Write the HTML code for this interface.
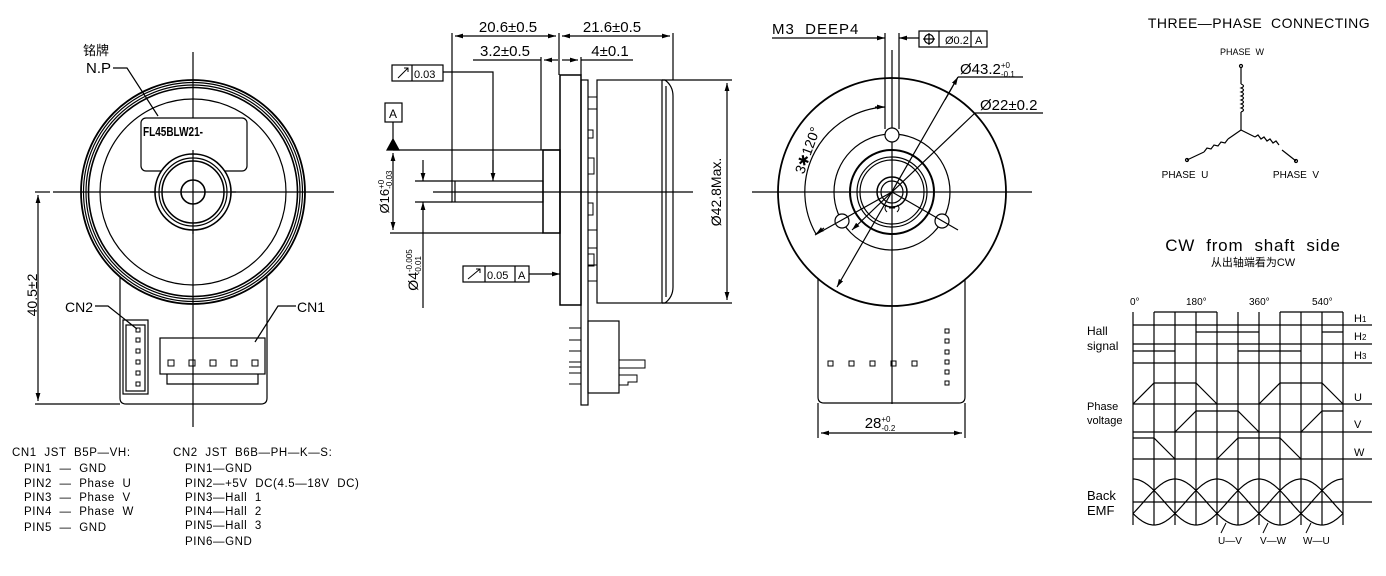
<!DOCTYPE html>
<html><head><meta charset="utf-8"><style>
html,body{margin:0;padding:0;background:#fff;}
svg{display:block}
text{font-family:"Liberation Sans","Noto Sans CJK SC",sans-serif;fill:#000;white-space:pre}
</style></head><body>
<svg width="1386" height="576" viewBox="0 0 1386 576" xmlns="http://www.w3.org/2000/svg" xml:space="preserve">
<defs>
<marker id="ar" viewBox="0 0 10 10" refX="10" refY="5" markerWidth="8" markerHeight="8" orient="auto-start-reverse" markerUnits="userSpaceOnUse"><path d="M0,2 L10,5 L0,8 z" fill="#000"/></marker>
</defs>
<g fill="none" stroke="#000" stroke-width="1.2">
<!-- LEFT VIEW -->
<line x1="193" y1="52" x2="193" y2="427"/>
<line x1="53" y1="192" x2="334" y2="192"/>
<line x1="35" y1="192" x2="50" y2="192"/>
<path d="M120,277 L120,398 Q120,404 126,404 L261,404 Q267,404 267,398 L267,277"/>
<circle cx="193" cy="192" r="112" stroke-width="1.8"/>
<circle cx="193" cy="192" r="109.5"/>
<circle cx="193" cy="192" r="107"/>
<circle cx="193" cy="192" r="104.5" stroke-width="1.6"/>
<circle cx="193" cy="192" r="93"/>
<rect x="141" y="118" width="106" height="53" rx="5" fill="#fff"/>
<circle cx="193" cy="192" r="38" stroke-width="1.6" fill="#fff"/>
<circle cx="193" cy="192" r="34"/>
<circle cx="193" cy="192" r="31" stroke-width="1.5"/>
<circle cx="193" cy="192" r="12" stroke-width="1.6"/>
<line x1="193" y1="150" x2="193" y2="234"/>
<line x1="150" y1="192" x2="236" y2="192"/>
<path d="M113,68 L127,68 L158,116"/>
<line x1="38" y1="195" x2="38" y2="401" marker-start="url(#ar)" marker-end="url(#ar)"/>
<line x1="35" y1="404" x2="120" y2="404"/>
<rect x="123" y="320" width="25" height="74"/>
<rect x="126" y="325" width="19" height="66"/>
<g stroke-width="1"><rect x="136" y="328" width="4" height="4"/><rect x="136" y="338" width="4" height="4"/><rect x="136" y="349" width="4" height="4"/><rect x="136" y="360" width="4" height="4"/><rect x="136" y="371" width="4" height="4"/><rect x="136" y="382" width="4" height="4"/></g>
<rect x="160" y="338" width="105" height="36"/>
<path d="M167,374 L167,384 L258,384 L258,374"/>
<g stroke-width="1"><rect x="168" y="360" width="6" height="6"/><rect x="189" y="360" width="6" height="6"/><rect x="210" y="360" width="6" height="6"/><rect x="231" y="360" width="6" height="6"/><rect x="252" y="360" width="6" height="6"/></g>
<path d="M95,306 L108,306 L137,329"/>
<path d="M296,306 L278,306 L255,342"/>

<!-- MIDDLE VIEW -->
<line x1="452" y1="33" x2="452" y2="181"/>
<line x1="559" y1="33" x2="559" y2="75"/>
<line x1="673" y1="33" x2="673" y2="80"/>
<line x1="455" y1="36" x2="556" y2="36" marker-start="url(#ar)" marker-end="url(#ar)"/>
<line x1="562" y1="36" x2="670" y2="36" marker-start="url(#ar)" marker-end="url(#ar)"/>
<line x1="473" y1="60" x2="541" y2="60"/>
<line x1="581" y1="60" x2="633" y2="60"/>
<line x1="541" y1="57" x2="541" y2="150"/>
<line x1="581" y1="57" x2="581" y2="75"/>
<line x1="544" y1="60" x2="558" y2="60" marker-start="url(#ar)"/>
<line x1="562" y1="60" x2="578" y2="60" marker-end="url(#ar)"/>
<rect x="560" y="75" width="21" height="230" stroke-width="1.5"/>
<rect x="581" y="80" width="7" height="325"/>
<rect x="597" y="80" width="65" height="223"/>
<path d="M662,80 L665,80 Q673,86 673,96 L673,287 Q673,297 665,303 L662,303"/>
<line x1="666" y1="86" x2="666" y2="297"/>
<g stroke-width="1"><rect x="588" y="97" width="9" height="12"/><rect x="588" y="130" width="5" height="8"/><rect x="588" y="158" width="6" height="16"/><rect x="588" y="203" width="5" height="12"/><rect x="588" y="230" width="9" height="18"/><rect x="588" y="254" width="6" height="12"/><rect x="588" y="265" width="9" height="16"/></g>
<rect x="543" y="150" width="17" height="83" stroke-width="1.5"/>
<rect x="452" y="181" width="91" height="21"/>
<line x1="455" y1="181" x2="455" y2="202"/>
<line x1="433" y1="192" x2="693" y2="192"/>
<rect x="385" y="103" width="17" height="19"/>
<line x1="393" y1="122" x2="393" y2="141"/>
<polygon points="387,150 399,150 393,139" fill="#000"/>
<line x1="393" y1="150" x2="560" y2="150"/>
<line x1="393" y1="153" x2="393" y2="230" marker-start="url(#ar)" marker-end="url(#ar)"/>
<line x1="390" y1="233" x2="543" y2="233"/>
<line x1="415" y1="181" x2="452" y2="181"/>
<line x1="415" y1="202" x2="452" y2="202"/>
<line x1="423" y1="160" x2="423" y2="181" marker-end="url(#ar)"/>
<line x1="423" y1="308" x2="423" y2="202" marker-end="url(#ar)"/>
<rect x="392" y="65" width="51" height="16"/><line x1="412" y1="65" x2="412" y2="81"/>
<path d="M443,72 L493,72 L493,178" />
<line x1="493" y1="160" x2="493" y2="181" marker-end="url(#ar)"/>
<rect x="463" y="266" width="66" height="16"/><line x1="485" y1="266" x2="485" y2="282"/><line x1="515" y1="266" x2="515" y2="282"/>
<line x1="529" y1="274" x2="560" y2="274" marker-end="url(#ar)"/>
<line x1="727" y1="83" x2="727" y2="300" marker-start="url(#ar)" marker-end="url(#ar)"/>
<line x1="662" y1="80" x2="732" y2="80"/>
<line x1="662" y1="303" x2="732" y2="303"/>
<rect x="588" y="321" width="31" height="72"/>
<g stroke-width="1"><path d="M569,328 H581 M569,340 H581 M569,351 H581 M569,362 H581 M569,367 H581 M569,373 H581 M569,384 H581"/>
<path d="M619,360 H645 V368 H619 M619,375 H637 V382 H628 V385 H619"/></g>

<!-- RIGHT VIEW -->
<path d="M818,270 L818,397 Q818,403 824,403 L959,403 Q965,403 965,397 L965,270"/>
<circle cx="892" cy="192" r="114" stroke-width="1.8" fill="#fff"/>
<circle cx="892" cy="192" r="58"/>
<circle cx="892" cy="192" r="42" stroke-width="2"/>
<circle cx="892" cy="192" r="35"/>
<circle cx="892" cy="192" r="32"/>
<circle cx="892" cy="192" r="15" stroke-width="1.5"/>
<circle cx="892" cy="192" r="11"/>
<path d="M887,205 q-4,3 0,7 M897,205 q4,3 0,7 M889,208 h6" stroke-width="1"/>
<line x1="752" y1="192" x2="1032" y2="192"/>
<line x1="892" y1="50" x2="892" y2="404"/>
<line x1="885" y1="33" x2="885" y2="129"/>
<line x1="899" y1="33" x2="899" y2="129"/>
<circle cx="892" cy="135" r="7" fill="#fff"/>
<circle cx="842" cy="221" r="7" fill="#fff"/>
<circle cx="942" cy="221" r="7" fill="#fff"/>
<line x1="892" y1="192" x2="815" y2="235"/>
<line x1="892" y1="192" x2="958" y2="230"/>
<line x1="772" y1="38" x2="885" y2="38" marker-end="url(#ar)"/>
<line x1="919" y1="38" x2="899" y2="38" marker-end="url(#ar)"/>
<rect x="919" y="31" width="68" height="16"/><line x1="939" y1="31" x2="939" y2="47"/><line x1="971" y1="31" x2="971" y2="47"/>
<circle cx="929" cy="39" r="4.5"/><line x1="929" y1="33" x2="929" y2="45"/><line x1="923" y1="39" x2="935" y2="39"/>
<line x1="958" y1="77" x2="1023" y2="77"/>
<line x1="958" y1="77" x2="837" y2="287" marker-end="url(#ar)"/>
<line x1="945" y1="100" x2="958" y2="77" marker-end="url(#ar)"/>
<line x1="975" y1="113" x2="1043" y2="113"/>
<line x1="975" y1="113" x2="852" y2="230" marker-end="url(#ar)"/>
<path d="M885,107 A85,85 0 0 0 816,234"/>
<line x1="875" y1="107" x2="885" y2="107" marker-end="url(#ar)"/>
<line x1="824" y1="228" x2="816" y2="234" marker-end="url(#ar)"/>
<g stroke-width="1"><rect x="828" y="361" width="5" height="5"/><rect x="849" y="361" width="5" height="5"/><rect x="870" y="361" width="5" height="5"/><rect x="891" y="361" width="5" height="5"/><rect x="912" y="361" width="5" height="5"/>
<rect x="945" y="329" width="4" height="4"/><rect x="945" y="339" width="4" height="4"/><rect x="945" y="350" width="4" height="4"/><rect x="945" y="360" width="4" height="4"/><rect x="945" y="370" width="4" height="4"/><rect x="945" y="381" width="4" height="4"/></g>
<line x1="818" y1="403" x2="818" y2="438"/>
<line x1="965" y1="403" x2="965" y2="438"/>
<line x1="821" y1="433" x2="962" y2="433" marker-start="url(#ar)" marker-end="url(#ar)"/>

<!-- THREE PHASE -->
<g stroke-width="1.2">
<line x1="1241" y1="67" x2="1241" y2="84"/>
<path d="M1241,84 q5,2 0,4 q5,2 0,4 q5,2 0,4 q5,2 0,4 q5,2 0,4 q5,2 0,4 q5,2 0,4"/>
<line x1="1241" y1="112" x2="1241" y2="130"/>
<line x1="1241" y1="130" x2="1228" y2="139"/>
<path d="M1228,139 l-3,4 l-4,-1 l-3,4 l-4,-1 l-3,4 l-4,-1 l-3,4"/>
<line x1="1204" y1="152" x2="1187" y2="160"/>
<line x1="1241" y1="130" x2="1255" y2="137"/>
<path d="M1255,137 l3,-2 l3,4 l3,-2 l3,4 l3,-2 l3,4 l3,-2 l3,4"/>
<line x1="1282" y1="150" x2="1296" y2="161"/>
</g>
<circle cx="1241" cy="66" r="1.5"/><circle cx="1187" cy="160" r="1.5"/><circle cx="1296" cy="161" r="1.5"/>

<!-- WAVEFORMS -->
<g stroke-width="1.2">
<path d="M1133,312 V525 M1154,312 V525 M1175,312 V525 M1196,312 V525 M1217,312 V525 M1238,312 V525 M1259,312 V525 M1280,312 V525 M1301,312 V525 M1322,312 V525 M1343,312 V525"/>
<path d="M1133,325 H1372 M1133,344 H1372 M1133,363 H1372 M1133,404 H1372 M1133,432 H1372 M1133,459 H1372 M1133,502 H1372"/>
<path d="M1154,312 H1217 M1280,312 H1343"/>
<path d="M1196,332 H1259 M1322,332 H1343"/>
<path d="M1133,351 H1175 M1238,351 H1301"/>
<path d="M1133,404 L1154,383 H1196 L1217,404 M1259,404 L1280,383 H1322 L1343,404"/>
<path d="M1175,432 L1196,411 H1238 L1259,432 M1301,432 L1322,411 H1343"/>
<path d="M1133,438 H1154 L1175,459 M1217,459 L1238,438 H1280 L1301,459"/>
<path id="s1" d=""/><path id="s2" d=""/><path id="s3" d=""/>
<path d="M1221,533 L1226,523 M1263,533 L1268,523 M1306,533 L1311,523" stroke-width="1"/>
</g>
</g>

<!-- TEXT -->
<text x="83" y="55" font-size="13">铭牌</text>
<text x="86" y="73" font-size="15">N.P</text>
<text x="143" y="136" font-size="13" font-weight="bold" textLength="60" lengthAdjust="spacingAndGlyphs">FL45BLW21-</text>
<text x="65" y="312" font-size="14">CN2</text>
<text x="297" y="312" font-size="14">CN1</text>
<text transform="translate(37,295) rotate(-90)" font-size="14" text-anchor="middle">40.5±2</text>
<g font-size="11.5" letter-spacing="0.6">
<text x="12" y="456">CN1  JST  B5P—VH:</text>
<text x="24" y="472">PIN1  —  GND</text>
<text x="24" y="487">PIN2  —  Phase  U</text>
<text x="24" y="501">PIN3  —  Phase  V</text>
<text x="24" y="515">PIN4  —  Phase  W</text>
<text x="24" y="531">PIN5  —  GND</text>
<text x="173" y="456">CN2  JST  B6B—PH—K—S:</text>
<text x="185" y="472">PIN1—GND</text>
<text x="185" y="487">PIN2—+5V  DC(4.5—18V  DC)</text>
<text x="185" y="501">PIN3—Hall  1</text>
<text x="185" y="515">PIN4—Hall  2</text>
<text x="185" y="529">PIN5—Hall  3</text>
<text x="185" y="545">PIN6—GND</text>
</g>
<text x="508" y="32" font-size="15" text-anchor="middle">20.6±0.5</text>
<text x="612" y="32" font-size="15" text-anchor="middle">21.6±0.5</text>
<text x="505" y="56" font-size="15" text-anchor="middle">3.2±0.5</text>
<text x="610" y="56" font-size="15" text-anchor="middle">4±0.1</text>
<text x="393" y="118" font-size="12" text-anchor="middle">A</text>
<text x="414" y="78" font-size="11">0.03</text>
<path d="M398,78 L408,68 M404,68 H408 V72" stroke="#000" fill="none"/>
<path d="M468,279 L480,269 M476,269 H480 V273" stroke="#000" fill="none"/>
<text x="487" y="279" font-size="11">0.05</text>
<text x="518" y="279" font-size="11">A</text>
<text transform="translate(389,192) rotate(-90)" font-size="13" text-anchor="middle">Ø16<tspan font-size="8" dy="-5">+0</tspan><tspan font-size="8" dx="-9" dy="8">-0.03</tspan></text>
<text transform="translate(418,270) rotate(-90)" font-size="14" text-anchor="middle">Ø4<tspan font-size="8" dy="-6">-0.005</tspan><tspan font-size="8" dx="-25" dy="9">-0.01</tspan></text>
<text transform="translate(721,192) rotate(-90)" font-size="14" text-anchor="middle">Ø42.8Max.</text>
<text x="772" y="34" font-size="15" letter-spacing="1">M3  DEEP4</text>
<text x="945" y="44" font-size="11">Ø0.2</text>
<text x="975" y="44" font-size="11">A</text>
<text x="960" y="74" font-size="15">Ø43.2<tspan font-size="8" dy="-6">+0</tspan><tspan font-size="8" dx="-9" dy="9">-0.1</tspan></text>
<text x="980" y="110" font-size="15">Ø22±0.2</text>
<text transform="translate(812,152) rotate(-70)" font-size="14" text-anchor="middle">3✱120°</text>
<text x="880" y="428" font-size="15" text-anchor="middle">28<tspan font-size="8" dy="-6">+0</tspan><tspan font-size="8" dx="-9" dy="9">-0.2</tspan></text>
<text x="1259" y="28" font-size="14" text-anchor="middle" letter-spacing="0.5">THREE—PHASE  CONNECTING</text>
<text x="1242" y="55" font-size="9" text-anchor="middle">PHASE  W</text>
<text x="1185" y="178" font-size="10" text-anchor="middle">PHASE  U</text>
<text x="1296" y="178" font-size="10" text-anchor="middle">PHASE  V</text>
<text x="1253" y="251" font-size="17" text-anchor="middle" letter-spacing="0.8">CW  from  shaft  side</text>
<text x="1253" y="266" font-size="11" text-anchor="middle" font-family="Noto Serif CJK SC,serif">从出轴端看为CW</text>
<g font-size="10">
<text x="1130" y="305">0°</text><text x="1186" y="305">180°</text><text x="1249" y="305">360°</text><text x="1312" y="305">540°</text>
<text x="1354" y="322" font-size="11">H<tspan font-size="8">1</tspan></text>
<text x="1354" y="340" font-size="11">H<tspan font-size="8">2</tspan></text>
<text x="1354" y="359" font-size="11">H<tspan font-size="8">3</tspan></text>
<text x="1354" y="401" font-size="11">U</text>
<text x="1354" y="428" font-size="11">V</text>
<text x="1354" y="456" font-size="11">W</text>
<text x="1087" y="335" font-size="12">Hall</text>
<text x="1087" y="350" font-size="12">signal</text>
<text x="1087" y="410" font-size="11">Phase</text>
<text x="1087" y="424" font-size="11">voltage</text>
<text x="1087" y="500" font-size="13">Back</text>
<text x="1087" y="515" font-size="13">EMF</text>
<text x="1218" y="544">U—V</text><text x="1260" y="544">V—W</text><text x="1303" y="544">W—U</text>
</g>
</svg>
<script>
for(let k=0;k<3;k++){let d="";for(let x=1133;x<=1343;x+=1){const y=502-23*Math.cos(2*Math.PI*(x-1175-42*k)/126);d+=(x==1133?"M":"L")+x+","+y.toFixed(1);}document.getElementById("s"+(k+1)).setAttribute("d",d);}
</script>
</body></html>
